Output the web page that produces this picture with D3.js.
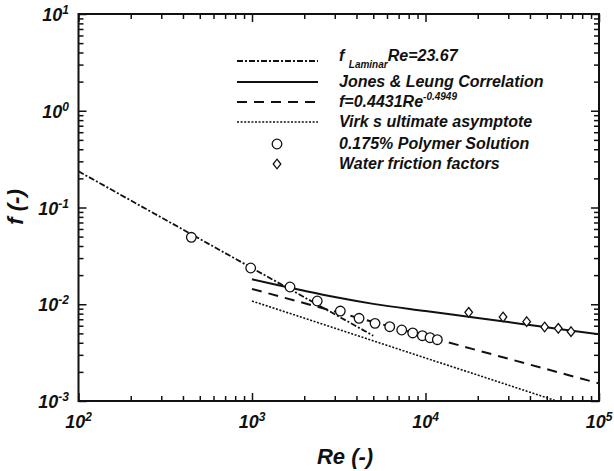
<!DOCTYPE html>
<html><head><meta charset="utf-8">
<script src="https://cdn.jsdelivr.net/npm/d3@7"></script>
<style>
body{margin:0;background:#fff}
text{font-family:"Liberation Sans",Arial,sans-serif;font-weight:bold;font-style:italic;fill:#111}
</style>
</head><body>
<svg id="c" width="614" height="471"></svg>
<script>
// ---- data ----
const xDecades = [100, 1000, 10000, 100000];
const xTickExp = ["2", "3", "4", "5"];
const yDecades = [0.001, 0.01, 0.1, 1, 10];
const yTickExp = ["-3", "-2", "-1", "0", "1"];

const laminarRe = [100, 5000];
const laminarF = [0.2367, 0.00473];
const jonesRe = [1000, 1400, 2000, 3000, 5000, 10000, 20000, 35000, 60000, 100000];
const jonesF = [0.01811, 0.01581, 0.01377, 0.01186, 0.01009, 0.00851, 0.00721, 0.0063, 0.00552, 0.00489];
const fitRe = [1000, 100000];
const fitF = [0.0144, 0.00152];
const virkRe = [1000, 57000];
const virkF = [0.0108, 0.001];
const polyRe = [447, 983, 1656, 2377, 3228, 4140, 5117, 6220, 7294, 8440, 9590, 10620, 11700];
const polyF = [0.0492, 0.0237, 0.01507, 0.0108, 0.00851, 0.00716, 0.00635, 0.00586, 0.00542, 0.00505, 0.00473, 0.00451, 0.0043];
const waterRe = [17740, 27990, 38300, 48600, 58250, 69000];
const waterF = [0.00826, 0.00738, 0.00661, 0.00582, 0.00564, 0.00521];

// ---- layout ----
const L = 78.5, R = 599, T = 14, B = 401;
const svg = d3.select("#c");
const x = d3.scaleLog().domain([1e2, 1e5]).range([L, R]);
const y = d3.scaleLog().domain([1e-3, 1e1]).range([B, T]);
const ink = "#111";

const minorX = [], minorY = [];
xDecades.slice(0, -1).forEach(d => { for (let k = 2; k <= 9; k++) minorX.push(d * k); });
yDecades.slice(0, -1).forEach(d => { for (let k = 2; k <= 9; k++) minorY.push(d * k); });

function axisGroup(axis, tx, ty) {
  const g = svg.append("g").attr("transform", `translate(${tx},${ty})`).call(axis);
  g.select(".domain").remove();
  g.selectAll("line").attr("stroke", ink).attr("stroke-width", 1.5);
  g.selectAll("text").remove();
  return g;
}
const MJ = 8, MN = 5;
axisGroup(d3.axisBottom(x).tickValues(xDecades).tickSize(-MJ), 0, B);
axisGroup(d3.axisBottom(x).tickValues(minorX).tickSize(-MN), 0, B);
axisGroup(d3.axisTop(x).tickValues(xDecades).tickSize(-MJ), 0, T);
axisGroup(d3.axisTop(x).tickValues(minorX).tickSize(-MN), 0, T);
axisGroup(d3.axisLeft(y).tickValues(yDecades).tickSize(-MJ), L, 0);
axisGroup(d3.axisLeft(y).tickValues(minorY).tickSize(-MN), L, 0);
axisGroup(d3.axisRight(y).tickValues(yDecades).tickSize(-MJ), R, 0);
axisGroup(d3.axisRight(y).tickValues(minorY).tickSize(-MN), R, 0);

svg.append("rect").attr("x", L).attr("y", T).attr("width", R - L).attr("height", B - T)
  .attr("fill", "none").attr("stroke", ink).attr("stroke-width", 2);

// tick labels
xDecades.forEach((d, i) => {
  const t = svg.append("text").attr("x", x(d)).attr("y", 428).attr("text-anchor", "middle").attr("font-size", 18);
  t.append("tspan").text("10");
  t.append("tspan").attr("dy", -7).attr("font-size", 12).text(xTickExp[i]);
});
yDecades.forEach((d, i) => {
  const t = svg.append("text").attr("x", 69).attr("y", y(d) + 7).attr("text-anchor", "end").attr("font-size", 18);
  t.append("tspan").text("10");
  t.append("tspan").attr("dy", -7).attr("font-size", 12).text(yTickExp[i]);
});

// axis titles
svg.append("text").attr("x", 345).attr("y", 464).attr("text-anchor", "middle").attr("font-size", 22).text("Re (-)");
svg.append("text").attr("transform", "translate(23,207) rotate(-90)").attr("text-anchor", "middle").attr("font-size", 22).text("f (-)");

// lines
const line = d3.line().x(d => x(d[0])).y(d => y(d[1]));
const smooth = d3.line().x(d => x(d[0])).y(d => y(d[1])).curve(d3.curveMonotoneX);
svg.append("clipPath").attr("id", "pc").append("rect").attr("x", L).attr("y", T).attr("width", R - L).attr("height", B - T);
const plot = svg.append("g").attr("clip-path", "url(#pc)");
const styles = {
  lam: {dash: "6,2,2,2", w: 1.8},
  jones: {dash: null, w: 2},
  fit: {dash: "10,7", w: 2},
  virk: {dash: "2,1.6", w: 1.6}
};
function drawLine(re, f, s, gen) {
  plot.append("path").datum(re.map((r, i) => [r, f[i]])).attr("d", gen || line)
    .attr("fill", "none").attr("stroke", ink).attr("stroke-width", s.w)
    .attr("stroke-dasharray", s.dash);
}
drawLine(laminarRe, laminarF, styles.lam);
drawLine(jonesRe, jonesF, styles.jones, smooth);
drawLine(fitRe, fitF, styles.fit);
drawLine(virkRe, virkF, styles.virk);

// markers
plot.selectAll("circle.p").data(polyRe.map((r, i) => [r, polyF[i]])).enter().append("circle")
  .attr("cx", d => x(d[0])).attr("cy", d => y(d[1])).attr("r", 4.8)
  .attr("fill", "#fff").attr("stroke", ink).attr("stroke-width", 1.3);
const diamond = (cx, cy) => `M${cx},${cy - 4.8}L${cx + 3.8},${cy}L${cx},${cy + 4.8}L${cx - 3.8},${cy}Z`;
plot.selectAll("path.w").data(waterRe.map((r, i) => [r, waterF[i]])).enter().append("path")
  .attr("d", d => diamond(x(d[0]), y(d[1])))
  .attr("fill", "#fff").attr("stroke", ink).attr("stroke-width", 1.3);

// legend
const lx0 = 237, lx1 = 318, tx = 339, fs = 16;
const rows = [61, 82, 102, 122, 144, 164];
function legLine(yy, s) {
  svg.append("line").attr("x1", lx0).attr("x2", lx1).attr("y1", yy).attr("y2", yy)
    .attr("stroke", ink).attr("stroke-width", s.w).attr("stroke-dasharray", s.dash);
}
legLine(rows[0], styles.lam);
legLine(rows[1], styles.jones);
legLine(rows[2], styles.fit);
legLine(rows[3], styles.virk);
svg.append("circle").attr("cx", 277).attr("cy", rows[4]).attr("r", 4.8)
  .attr("fill", "#fff").attr("stroke", ink).attr("stroke-width", 1.3);
svg.append("path").attr("d", diamond(277, rows[5]))
  .attr("fill", "#fff").attr("stroke", ink).attr("stroke-width", 1.3);

let t0 = svg.append("text").attr("x", tx).attr("y", rows[0]).attr("font-size", fs);
t0.append("tspan").text("f ");
t0.append("tspan").attr("dy", 7).attr("font-size", 10).text("Laminar");
t0.append("tspan").attr("dy", -7).text("Re=23.67");
svg.append("text").attr("x", tx).attr("y", rows[1] + 5).attr("font-size", fs).text("Jones & Leung Correlation");
let t2 = svg.append("text").attr("x", tx).attr("y", rows[2] + 5).attr("font-size", fs);
t2.append("tspan").text("f=0.4431Re");
t2.append("tspan").attr("dy", -7).attr("font-size", 10).text("-0.4949");
svg.append("text").attr("x", tx).attr("y", rows[3] + 5).attr("font-size", fs).text("Virk s ultimate asymptote");
svg.append("text").attr("x", tx).attr("y", rows[4] + 5).attr("font-size", fs).text("0.175% Polymer Solution");
svg.append("text").attr("x", tx).attr("y", rows[5] + 5).attr("font-size", fs).text("Water friction factors");
</script>
</body></html>
